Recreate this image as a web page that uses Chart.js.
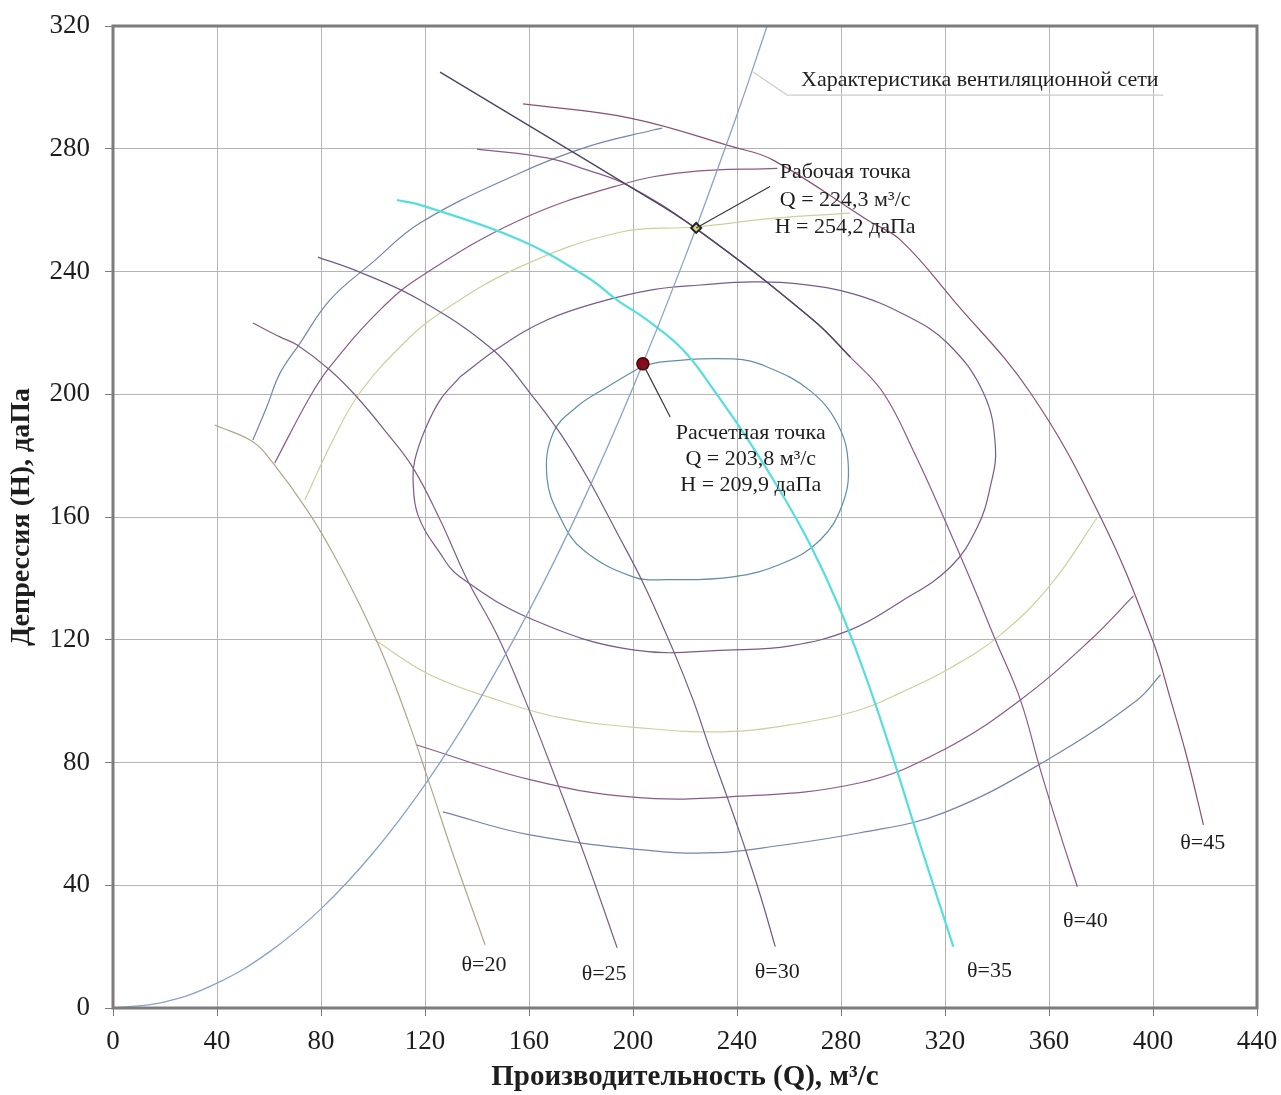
<!DOCTYPE html>
<html><head><meta charset="utf-8">
<script src="https://cdn.jsdelivr.net/npm/chart.js@4.4.1/dist/chart.umd.min.js"></script>
<style>html,body{margin:0;padding:0;background:#fff;}canvas{display:block;}</style>
</head><body>
<canvas id="c" width="1281" height="1095"></canvas>
<script>
// ---- tick labels ----
const xTicks = [0,40,80,120,160,200,240,280,320,360,400,440];
const yTicks = [0,40,80,120,160,200,240,280,320];

// ---- network characteristic ----
const netQ = [0,20,40,60,80,100,120,140,160,180,200,220,240,251.6];
const netH = [0,2.0,8.1,18.2,32.3,50.5,72.8,99.1,129.4,163.7,202.2,244.6,291.1,320];

// ---- blade-angle curves θ ----
const th20Q = [39.1,53.8,61.5,74.6,84.6,94.9,104.6,113.4,121.9,131.5,143.1];
const th20H = [190.0,184.5,177.6,162.3,148.2,131.4,113.4,93.9,72.7,48.3,20.6];
const th25Q = [53.8,64.2,70.7,83.4,93.8,105.3,115.4,125.8,136.2,147.7,158.5,171.2,182.7,193.9];
const th25H = [223.2,218.7,216.1,207.9,199.1,187.4,176.0,159.1,139.6,121.6,100.4,72.7,46.7,19.6];
const th30Q = [78.8,94.9,118.1,146.2,160.4,171.9,182.3,193.9,203.9,215.4,223.1,229.7,236.2,242.4,248.9,254.7];
const th30H = [244.7,239.8,230.7,214.4,200.4,187.4,173.1,154.8,138.5,116.7,100.4,84.1,68.8,53.8,36.9,20.0];
const th35Q = [109.2,118.1,156.5,182.3,193.9,205.4,219.3,232.4,245.1,257.0,268.2,278.9,288.6,297.8,310.5,323.2];
const th35H = [263.3,261.7,250.3,238.2,230.7,224.2,214.4,199.8,184.1,167.9,150.9,131.4,110.2,87.4,53.2,20.0];
const th40Q = [140.0,166.9,182.3,197.7,223.9,269.3,283.6,296.3,308.6,319.4,329.8,339.4,349.0,356.7,364.4,370.9];
const th40H = [279.9,277.0,273.1,268.2,254.2,224.2,212.1,200.4,180.2,160.0,139.6,119.9,100.4,77.6,56.4,39.5];
const th45Q = [157.7,198.9,238.5,253.9,290.1,302.8,323.2,352.9,379.8,399.8,406.8,413.3,419.4];
const th45H = [294.6,290.0,280.6,276.3,256.8,250.3,230.7,200.4,160.0,119.9,100.4,80.9,59.7];
// operating curve through the working point
const opQ = [125.8,161.6,197.7,223.9,269.3,283.6];
const opH = [305.0,286.7,268.2,254.2,224.2,212.1];

// ---- efficiency contours ----
const e1Q = [203.0,210.4,238.5,251.6,268.2,278.9,282.8,280.5,272.0,257.8,238.5,213.1,200.0,180.8,171.9,166.9,169.3,178.5,190.1,203.0];
const e1H = [208.9,210.5,211.5,208.9,201.1,190.0,176.9,164.0,152.5,145.0,140.5,139.6,140.5,149.3,160.0,172.9,187.4,196.0,202.4,208.9];
const e2Q = [133.4,125.8,120.0,116.1,115.4,117.3,125.8,133.4,161.6,200.0,238.5,260.5,283.6,302.8,322.1,332.5,337.4,339.4,334.8,320.9,304.7,284.7,264.3,246.2,225.8,207.8,187.3,166.9,148.8,133.4];
const e2H = [205.6,198.1,188.4,178.6,172.2,160.6,148.2,140.5,126.5,116.7,116.7,118.0,123.2,132.3,143.7,156.8,169.8,182.8,200.4,216.7,225.8,232.7,235.9,236.6,235.6,234.1,230.1,224.2,215.4,205.6];
const e3TopQ = [73.8,84.6,94.9,110.4,125.8,156.5,195.0,223.9,254.7,283.6];
const e3TopH = [165.6,185.1,200.4,215.4,226.5,241.5,252.8,254.5,257.4,259.0];
const e3BotQ = [100.7,121.9,147.7,171.9,202.7,234.7,260.5,287.4,302.8,322.1,341.3,360.6,378.7];
const e3BotH = [119.9,108.6,100.4,94.6,91.3,90.0,92.3,97.2,102.7,110.8,121.6,137.9,160.0];
const e4TopQ = [62.2,75.7,83.4,102.7,118.1,156.5,195.0,220.8,255.5];
const e4TopH = [177.6,199.1,208.9,227.5,238.2,256.8,268.2,272.4,273.6];
const e4BotQ = [116.5,160.4,198.9,237.4,287.4,319.4,349.0,375.9,392.5];
const e4BotH = [85.8,74.4,68.8,68.8,73.4,84.1,100.4,119.9,134.3];
const e5TopQ = [53.8,59.2,64.2,71.9,83.4,99.6,118.1,156.5,182.3,207.8,211.2];
const e5TopH = [185.1,196.0,206.8,216.6,230.7,242.8,255.8,272.1,280.6,286.1,286.7];
const e5BotQ = [126.9,160.4,211.6,232.4,250.1,287.4,319.4,359.4,394.0,402.9];
const e5BotH = [63.9,56.4,50.9,50.6,52.2,57.1,63.6,80.9,100.4,108.6];

// ---- points ----
const designQ = [203.8], designH = [209.9];
const workQ = [224.3], workH = [254.2];

// ---- annotation texts ----
const thetaLabels = ['θ=20','θ=25','θ=30','θ=35','θ=40','θ=45'];
const thetaLabelQ = [142.7,188.9,255.5,337.1,374.0,419.1];
const thetaLabelH = [14.1,11.1,11.8,12.1,28.3,53.6];
const designLines = ['Расчетная точка','Q = 203,8 м³/с','H = 209,9 даПа'];
const designLabelQ = 245.3, designLabelH = [187.4,178.9,170.5];
const workLines = ['Рабочая точка','Q = 224,3 м³/с','H = 254,2 даПа'];
const workLabelQ = 281.6, workLabelH = [272.2,263.3,254.3];
const netLabel = 'Характеристика вентиляционной сети';
const netLabelQ = 333.4, netLabelH = 302.4;
const netLeaderQ = [246.2,259.3,404.0], netLeaderH = [305.0,297.5,297.5];
const workLeaderQ = [224.3,252.7], workLeaderH = [254.2,267.7];
const designLeaderQ = [203.8,214.3], designLeaderH = [209.9,192.6];

const FONT = "'Liberation Serif','Times New Roman',serif";
const pts = (q,h) => q.map((v,i)=>({x:v,y:h[i]}));
const line = (q,h,color,w) => ({data:pts(q,h),showLine:true,borderColor:color,borderWidth:w||1.2,pointRadius:0,tension:0.4,fill:false});

const datasets = [
  {data:pts(designQ,designH),pointStyle:'circle',pointRadius:6,backgroundColor:'#8b0a1a',borderColor:'#4a0008',borderWidth:1.5,showLine:false},
  {data:pts(workQ,workH),pointStyle:'rectRot',pointRadius:5,backgroundColor:'#d6d68a',borderColor:'#222',borderWidth:2,showLine:false},
  line(opQ,opH,'#4e4462',1.4),
  line(netQ,netH,'#8aa3c6',1.3),
  line(th35Q,th35H,'#55dede',2.2),
  line(th20Q,th20H,'#b0a686'),
  line(th25Q,th25H,'#7e607e'),
  line(th30Q,th30H,'#715a86'),
  line(th40Q,th40H,'#8a5a8a'),
  line(th45Q,th45H,'#8a5072'),
  line(e1Q,e1H,'#5f90aa'),
  line(e2Q,e2H,'#7a5a8a'),
  line(e3TopQ,e3TopH,'#cfcf9c'),
  line(e3BotQ,e3BotH,'#cfcf9c'),
  line(e4TopQ,e4TopH,'#8a5a86'),
  line(e4BotQ,e4BotH,'#8a5a86'),
  line(e5TopQ,e5TopH,'#7484aa'),
  line(e5BotQ,e5BotH,'#7484aa'),
];

const annotPlugin = {
  id:'annot',
  afterDatasetsDraw(chart){
    const {ctx, chartArea:a, scales:{x,y}} = chart;
    const X = v=>x.getPixelForValue(v), Y = v=>y.getPixelForValue(v);
    ctx.save();
    ctx.strokeStyle = '#7c7c7c'; ctx.lineWidth = 3;
    ctx.strokeRect(a.left, a.top, a.right-a.left, a.bottom-a.top);
    const poly = (qs,hs,color,w)=>{ctx.beginPath();ctx.strokeStyle=color;ctx.lineWidth=w;
      qs.forEach((q,i)=>{const px=X(q),py=Y(hs[i]); i?ctx.lineTo(px,py):ctx.moveTo(px,py);});ctx.stroke();};
    poly(netLeaderQ,netLeaderH,'#cdcdcd',1.2);
    poly(workLeaderQ,workLeaderH,'#3a3a3a',1.2);
    poly(designLeaderQ,designLeaderH,'#3a3a3a',1.2);
    ctx.fillStyle = '#1e1e1e';
    ctx.font = '22px ' + FONT;
    ctx.textAlign = 'center'; ctx.textBaseline = 'middle';
    thetaLabels.forEach((t,i)=>ctx.fillText(t, X(thetaLabelQ[i]), Y(thetaLabelH[i])));
    designLines.forEach((t,i)=>ctx.fillText(t, X(designLabelQ), Y(designLabelH[i])));
    workLines.forEach((t,i)=>ctx.fillText(t, X(workLabelQ), Y(workLabelH[i])));
    ctx.fillText(netLabel, X(netLabelQ), Y(netLabelH));
    ctx.restore();
  }
};

new Chart(document.getElementById('c'), {
  type:'scatter',
  data:{datasets},
  options:{
    responsive:false, animation:false, devicePixelRatio:1,
    layout:{padding:{top:26,right:24,left:0,bottom:0}},
    plugins:{legend:{display:false},tooltip:{enabled:false}},
    scales:{
      x:{type:'linear',min:0,max:440,
        afterBuildTicks:s=>{s.ticks = xTicks.map(v=>({value:v}));},
        afterFit:s=>{s.height = 87; s.paddingLeft = 0; s.paddingRight = 0;},
        ticks:{font:{family:FONT,size:27},color:'#1e1e1e',padding:10,maxRotation:0,autoSkip:false},
        grid:{color:'#b4b4b4',lineWidth:1,tickLength:8,tickColor:'#7c7c7c'},
        border:{display:false},
        title:{display:true,text:'Производительность (Q), м³/с',font:{family:FONT,size:29,weight:'bold'},color:'#1e1e1e',padding:{top:0,bottom:0}}
      },
      y:{type:'linear',min:0,max:320,
        afterBuildTicks:s=>{s.ticks = yTicks.map(v=>({value:v}));},
        afterFit:s=>{s.width = 113; s.paddingTop = 0; s.paddingBottom = 0;},
        ticks:{font:{family:FONT,size:27},color:'#1e1e1e',padding:15,autoSkip:false},
        grid:{color:'#b4b4b4',lineWidth:1,tickLength:8,tickColor:'#7c7c7c'},
        border:{display:false},
        title:{display:true,text:'Депрессия (H), даПа',font:{family:FONT,size:28,weight:'bold'},color:'#1e1e1e',padding:{top:5,bottom:0}}
      }
    }
  },
  plugins:[annotPlugin]
});
</script>
</body></html>
